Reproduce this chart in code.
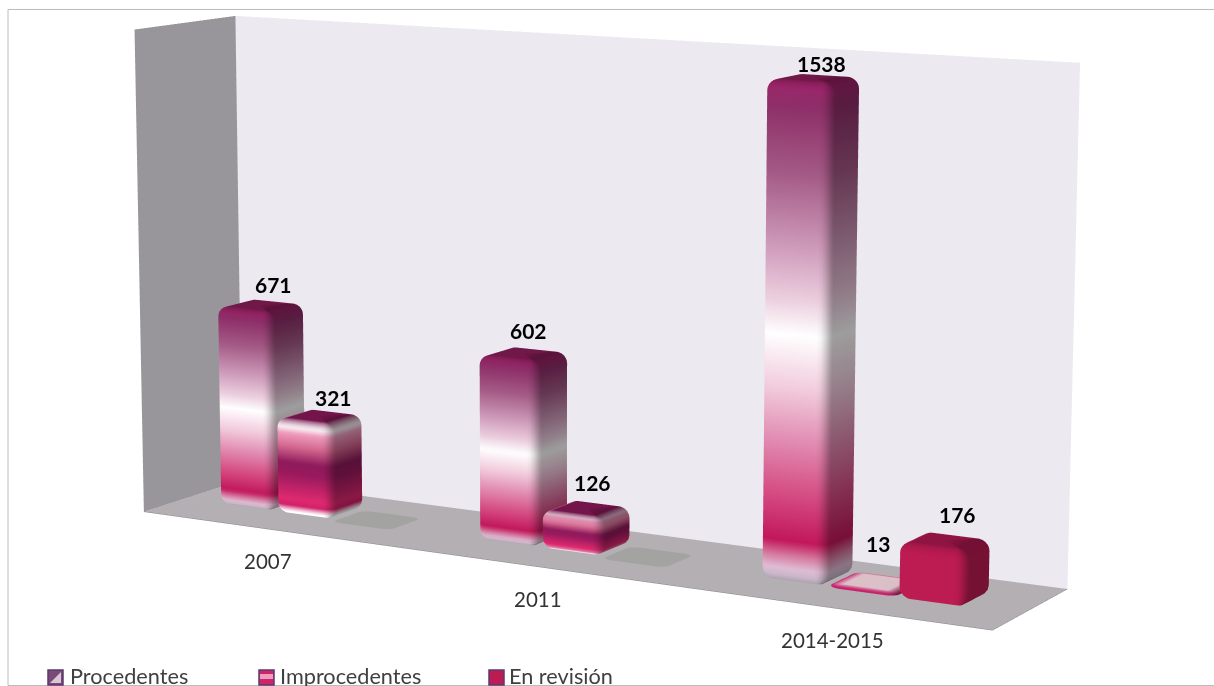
import numpy as np, plotly.graph_objects as go

categories = ["2007", "2011", "2014-2015"]
series_names = ["Procedentes", "Improcedentes", "En revisión"]
procedentes = [671, 602, 1538]
improcedentes = [321, 126, 13]
en_revision = [0, 0, 176]
z_max = 1600

# fitted camera and box placement
EYE = (0.0851, -1.4929, 1.1955)
AX = (-0.1258, 2.1079, 0.2125, -0.0391)
AY = (0.3345, -0.2262, 0.1224, 0.7372)
R = 6

def place(u, v, val):
    """u,v in 0..1 across floor, val in data units -> scene x,y,z"""
    U = 2 * np.asarray(u, float) - 1
    V = 2 * np.asarray(v, float) - 1
    w = 2 * np.asarray(val, float) / z_max - 1
    return (AX[0] + AX[1] * U + AX[2] * V + AX[3] * w,
            AY[0] + AY[1] * U + AY[2] * V + AY[3] * w,
            np.asarray(val, float))

def hx(c):
    c = c.lstrip('#')
    return np.array([int(c[i:i + 2], 16) for i in (0, 2, 4)], float)

def ramp(stops, t):
    ts = [s[0] for s in stops]
    cols = np.array([hx(s[1]) for s in stops])
    return np.array([np.interp(t, ts, cols[:, i]) for i in range(3)])

GRAD_PROC = [(0, '#a8a0aa'), (.015, '#cdb8cc'), (.03, '#e0bcd4'), (.055, '#d67aa0'), (.085, '#c2185b'),
             (.17, '#d4477f'), (.31, '#e59abc'), (.39, '#f2cbdc'), (.5, '#ffffff'), (.57, '#eccfdf'),
             (.66, '#d3a2c0'), (.82, '#a45a86'), (.95, '#8e2f69'), (1, '#a0246c')]
GRAD_IMPR = [(0, '#ffffff'), (.05, '#ffffff'), (.1, '#d0206a'), (.17, '#e02a70'), (.44, '#9a1a5e'), (.55, '#8e1a5c'),
             (.72, '#d4688f'), (.86, '#ef9cbe'), (.93, '#ffffff'), (1, '#e6cfdb')]
GRAD_REV = [(0, '#bd1c52'), (1, '#bd1c52')]
grads = [GRAD_PROC, GRAD_IMPR, GRAD_REV]
tops = ['#701848', '#73154a', '#8f1442']
depths = [(.37, .74), (.36, .72), (.33, .67)]
u_nudge = [-.006, -.003, 0]
BW = .0745
RU, RV = .013, .05

def bar_mesh(cat, ser, value):
    uc = (cat + .5) / 3
    u0 = uc + (ser - 1.5) * BW + u_nudge[ser]
    u1 = u0 + BW
    v0, v1 = depths[ser]
    flat = value == 0
    small = 0 < value < 50
    h = 1.5 if flat else value
    rz = min(35, h * .45)
    lv = []  # (z, s)
    for th in np.linspace(0, np.pi / 2, 5):
        lv.append((rz * (1 - np.cos(th)), np.sin(th)))
    nmid = max(2, int(h / 10))
    for z in np.linspace(rz, h - rz, nmid)[1:-1]:
        lv.append((z, 1.0))
    for th in np.linspace(0, np.pi / 2, 7):
        lv.append((h - rz + rz * np.sin(th), np.cos(th)))
    centres = [(u1 - RU, v0 + RV, -np.pi / 2), (u1 - RU, v1 - RV, 0), (u0 + RU, v1 - RV, np.pi / 2), (u0 + RU, v0 + RV, np.pi)]
    ang = []
    for cu, cv, a0 in centres:
        for a in np.linspace(a0, a0 + np.pi / 2, 6):
            ang.append((cu, cv, a))
    n = len(ang)
    U, V, Z, C = [], [], [], []
    top = hx('#a3a3a1' if flat else '#dcc0c8' if small else tops[ser])
    for z, s in lv:
        t = z / h
        for cu, cv, a in ang:
            U.append(cu + s * RU * np.cos(a))
            V.append(cv + s * RV * np.sin(a))
            Z.append(z)
            if flat:
                col = hx('#a3a3a1')
            elif small:
                col = hx('#c8206a')
            else:
                col = ramp(grads[ser], t)
            if not flat:
                col = col * (1 - .38 * max(np.cos(a), 0) ** 2)
            if z > h - rz and not flat:
                m = 1 - s
                topc = top * (1 - .2 * max(np.cos(a), 0) ** 2) if not small else top
                col = col * (1 - m) + topc * m
            C.append(col)
    I, J, K = [], [], []
    L = len(lv)
    for l in range(L - 1):
        for q in range(n):
            a = l * n + q
            b = l * n + (q + 1) % n
            c = (l + 1) * n + q
            d = (l + 1) * n + (q + 1) % n
            I += [a, b]
            J += [b, d]
            K += [c, c]
    idx = len(U)
    U.append((u0 + u1) / 2); V.append((v0 + v1) / 2); Z.append(h); C.append(top)
    for q in range(n):
        I.append(idx); J.append((L - 1) * n + q); K.append((L - 1) * n + (q + 1) % n)
    x, y, zz = place(U, V, Z)
    colors = ['rgb(%d,%d,%d)' % tuple(np.clip(c, 0, 255)) for c in C]
    return go.Mesh3d(x=x, y=y, z=zz, i=I, j=J, k=K, vertexcolor=colors, flatshading=False, hoverinfo='skip',
                     lighting=dict(ambient=1, diffuse=0, specular=0, fresnel=0), showscale=False)

fig = go.Figure()

def quad(uvz, cols):
    u, v, z = zip(*uvz)
    x, y, zz = place(u, v, z)
    fig.add_mesh3d(x=x, y=y, z=zz, i=[0, 0], j=[1, 2], k=[2, 3], vertexcolor=cols, hoverinfo='skip',
                   lighting=dict(ambient=1, diffuse=0, specular=0, fresnel=0))

quad([(0, 0, 0), (1, 0, 0), (1, 1, 0), (0, 1, 0)], ['#b3afb3'] * 4)
quad([(0, 1, 0), (1, 1, 0), (1, 1, z_max), (0, 1, z_max)], ['#ece9f1'] * 4)
quad([(0, 0, 0), (0, 1, 0), (0, 1, z_max), (0, 0, z_max)], ['#98969a'] * 4)

ex, ey, ez = place([0, 1, 1], [0, 0, 1], [0, 0, 0])
fig.add_scatter3d(x=ex, y=ey, z=ez, mode='lines', line=dict(color='#86828a', width=1), hoverinfo='skip', showlegend=False)

values = [procedentes, improcedentes, en_revision]
for cat in range(3):
    for ser in range(3):
        fig.add_trace(bar_mesh(cat, ser, values[ser][cat]))

# px offsets of the value labels from the centre of each bar's top
label_dx = {(0, 0): 13, (0, 1): 14, (1, 0): 5, (1, 1): 6, (2, 0): 8, (2, 1): 2, (2, 2): 12}
label_dy = {(0, 0): 20, (0, 1): 18, (1, 0): 23, (1, 1): 26, (2, 0): 14, (2, 1): 38, (2, 2): 26}
ann = []
for (cat, ser), dx in label_dx.items():
    val = values[ser][cat]
    uc = (cat + .5) / 3 + (ser - 1) * BW + u_nudge[ser]
    x, y, z = place(uc, sum(depths[ser]) / 2, val)
    ann.append(dict(x=float(x), y=float(y), z=float(z), text='<b>%d</b>' % val, showarrow=False, xshift=dx, yshift=label_dy[(cat, ser)],
                    font=dict(family='Lato', size=21, color='#000000'), xanchor='center', yanchor='middle'))
for cat, name in enumerate(categories):
    x, y, z = place((cat + .5) / 3, 0, 0)
    ann.append(dict(x=float(x), y=float(y), z=float(z), text=name, showarrow=False, xshift=-2, yshift=-32,
                    font=dict(family='Lato', size=20.5, color='#333333'), xanchor='center', yanchor='middle'))

axis = dict(visible=False, range=[-R, R])
W, H = 1214, 686
def px(x): return x / W
def py(y): return 1 - y / H
shapes = [dict(type='path', xref='paper', yref='paper',
               path='M %f,%f L %f,%f L %f,%f L %f,%f' % (px(1300), py(9.5), px(8), py(9.5), px(8), py(685.5), px(1300), py(685.5)),
               line=dict(color='#bcbcbc', width=1), layer='below')]
leg_x = [48, 259, 489]
leg_text_x = [68, 278, 507]
swatch_fill = ['#7a4a78', '#d0246a', '#bd1c52']
swatch_band = ['#d8c8d4', '#ef9cbe', '#bd1c52']
annotations = []
for k, name in enumerate(series_names):
    shapes.append(dict(type='rect', xref='paper', yref='paper', x0=px(leg_x[k]), x1=px(leg_x[k] + 15), y0=py(685), y1=py(670), fillcolor=swatch_fill[k], line=dict(color='#5a3a70', width=1.5)))
    if k == 0:
        shapes.append(dict(type='path', xref='paper', yref='paper', fillcolor=swatch_band[k], line=dict(width=0),
                           path='M %f,%f L %f,%f L %f,%f Z' % (px(leg_x[k] + 13), py(672), px(leg_x[k] + 13), py(683), px(leg_x[k] + 2), py(683))))
    elif k == 1:
        shapes.append(dict(type='rect', xref='paper', yref='paper', x0=px(leg_x[k] + 1), x1=px(leg_x[k] + 14), y0=py(679), y1=py(674), fillcolor=swatch_band[k], line=dict(width=0)))
    annotations.append(dict(xref='paper', yref='paper', x=px(leg_text_x[k]), y=py(676), text=name, showarrow=False, xanchor='left', yanchor='middle',
                            font=dict(family='Lato', size=21.7, color='#404040')))

fig.update_layout(width=W, height=H, margin=dict(l=0, r=0, t=0, b=0), showlegend=False, paper_bgcolor='white',
                  shapes=shapes, annotations=annotations,
                  scene=dict(domain=dict(x=[0, 1], y=[0, 1]), xaxis=axis, yaxis=axis, zaxis=dict(visible=False, range=[0, z_max]),
                             aspectmode='manual', aspectratio=dict(x=R, y=R, z=1), annotations=ann, dragmode=False,
                             camera=dict(eye=dict(x=EYE[0], y=EYE[1], z=EYE[2]), center=dict(x=0, y=0, z=0), up=dict(x=0, y=0, z=1))))
fig.write_html('out.html', config=dict(displayModeBar=False), post_script="document.body.style.margin='0';document.body.style.overflow='hidden';")
